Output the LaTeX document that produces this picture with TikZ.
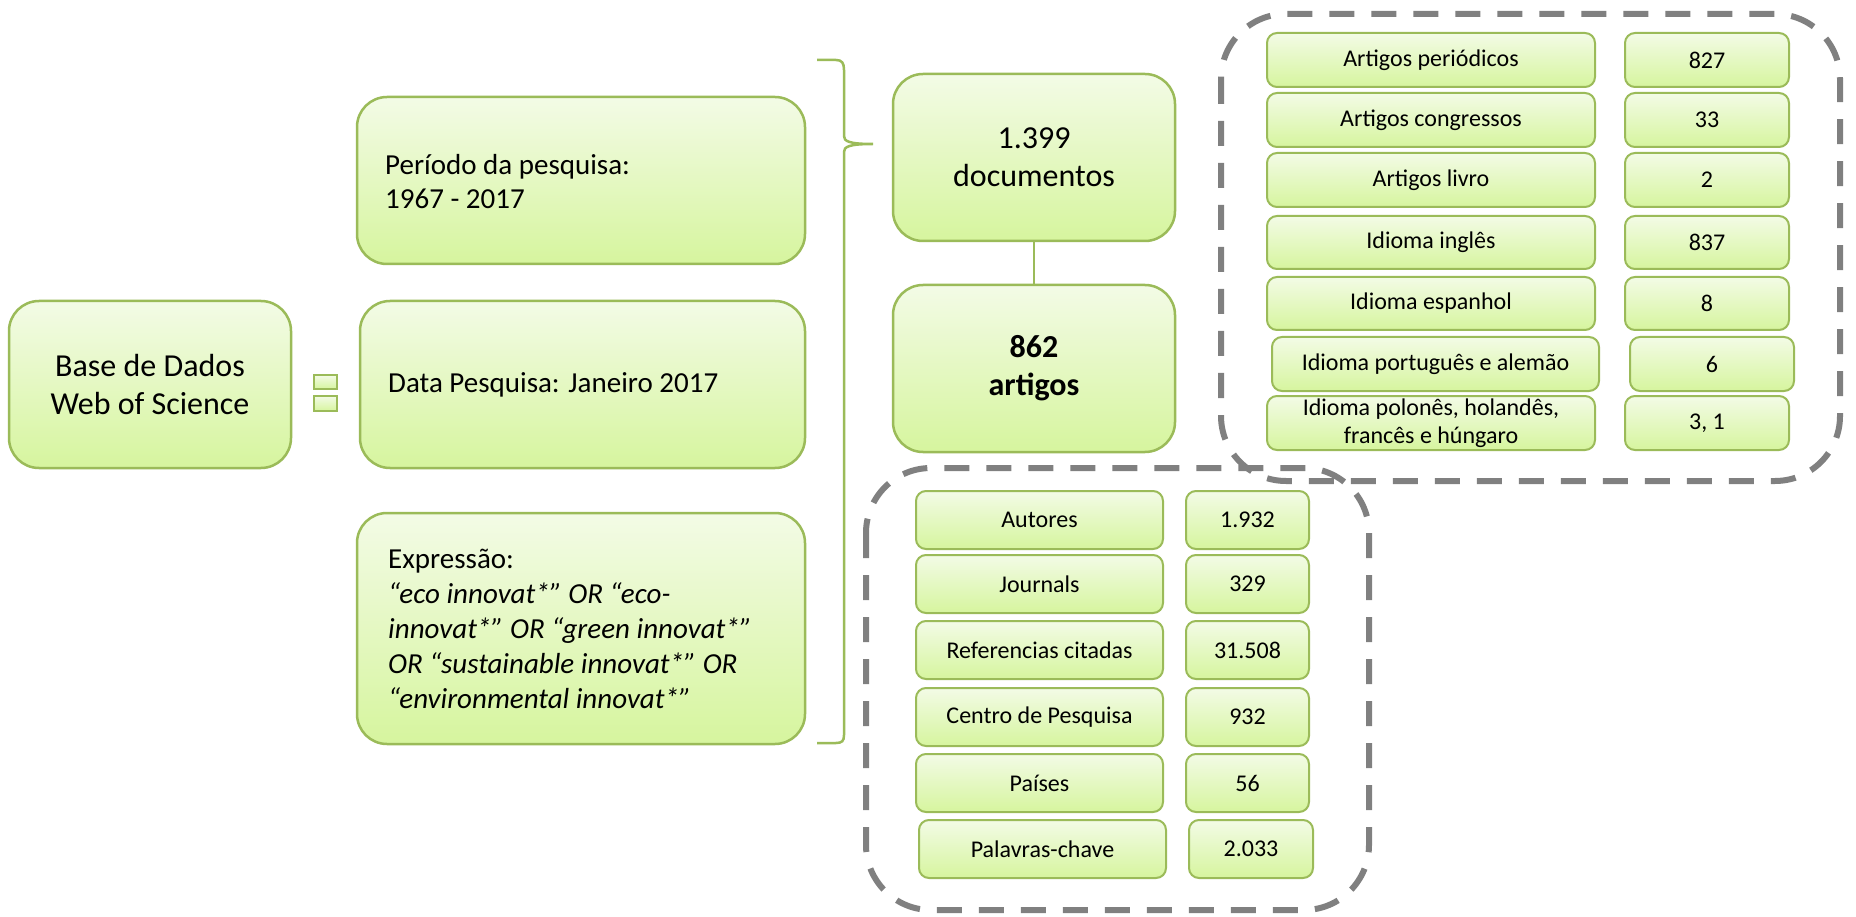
\documentclass[tikz,border=0pt]{standalone}
\usepackage{fontspec}
\setmainfont{Carlito}
\definecolor{gborder}{RGB}{155,187,89}
\definecolor{gtop}{RGB}{243,251,230}
\definecolor{gbot}{RGB}{214,245,158}
\definecolor{dgray}{RGB}{128,128,128}
\tikzset{
  gbox/.style={draw=gborder, line width=2.5pt, rounded corners=30pt, top color=gtop, bottom color=gbot, inner sep=0pt},
  tbox/.style={draw=gborder, line width=2pt, rounded corners=10pt, top color=gtop, bottom color=gbot, inner sep=0pt, font=\fontsize{24}{28}\selectfont, align=center},
  sqbox/.style={draw=gborder, line width=2pt, top color=gtop, bottom color=gbot, inner sep=0pt},
  dashbox/.style={draw=dgray, line width=6pt, dash pattern=on 25pt off 17pt, rounded corners=65pt},
  lbl/.style={inner sep=0pt, align=left, anchor=west, font=\fontsize{29}{34}\selectfont},
  bigtxt/.style={font=\fontsize{32}{38}\selectfont, align=center},
  link/.style={draw=gborder, line width=2.5pt},
}
\newcommand\gbx[7]{\node[#1, minimum width={(#5-#3)*1pt}, minimum height={(#6-#4)*1pt}] (#2) at ({(#3+#5)/2},{(#4+#6)/2}) {#7};}
\begin{document}
\begin{tikzpicture}[x=1pt,y=-1pt]
\useasboundingbox[fill=white] (0,0) rectangle (1856,917);

% dashed groups
\draw[dashbox] (1221,14) rectangle (1840,481);
\draw[dashbox] (866,468) rectangle (1369,910);

% left part
\gbx{gbox,bigtxt}{base}{9}{301}{291}{468}{Base de Dados\\Web of Science}
\gbx{sqbox}{sqa}{314}{375}{337}{389}{}
\gbx{sqbox}{sqb}{314}{396}{337}{411}{}

\gbx{gbox}{per}{357}{97}{805}{264}{}
\node[lbl] (pertxt) at (385,182) {Período da pesquisa:\\1967 - 2017};
\gbx{gbox}{data}{360}{301}{805}{468}{}
\node[lbl] (datatxt) at (388,385) {Data Pesquisa: Janeiro 2017};
\gbx{gbox}{expr}{357}{513}{805}{744}{}
\node[lbl, font=\fontsize{29}{35}\selectfont] (exptxt) at (388,629) {Expressão:\\\textit{“eco innovat*” OR “eco-}\\\textit{innovat*” OR “green innovat*”}\\\textit{OR “sustainable innovat*” OR}\\\textit{“environmental innovat*”}};

% brace
\coordinate (btop) at (817,60);
\coordinate (btip) at (873,144);
\coordinate (bbot) at (817,743);
\draw[link] (btop) -- (836,60) .. controls (842,60) and (844,63) .. (844,70) -- (844,136)
  .. controls (844,141) and (848,144) .. (btip)
  .. controls (848,144) and (844,147) .. (844,152) -- (844,735)
  .. controls (844,741) and (842,743) .. (836,743) -- (bbot);

% centre column
\gbx{gbox,bigtxt}{doc}{893}{74}{1175}{241}{1.399\\documentos}
\gbx{gbox,bigtxt}{art}{893}{285}{1175}{452}{\textbf{862}\\\textbf{artigos}}
\draw[link] (doc.south) -- (art.north);

% upper table
\gbx{tbox}{u1a}{1267}{33}{1595}{87}{Artigos periódicos}
\gbx{tbox}{u1b}{1625}{33}{1789}{87}{827}
\gbx{tbox}{u2a}{1267}{93}{1595}{147}{Artigos congressos}
\gbx{tbox}{u2b}{1625}{93}{1789}{147}{33}
\gbx{tbox}{u3a}{1267}{153}{1595}{207}{Artigos livro}
\gbx{tbox}{u3b}{1625}{153}{1789}{207}{2}
\gbx{tbox}{u4a}{1267}{216}{1595}{269}{Idioma inglês}
\gbx{tbox}{u4b}{1625}{216}{1789}{269}{837}
\gbx{tbox}{u5a}{1267}{277}{1595}{330}{Idioma espanhol}
\gbx{tbox}{u5b}{1625}{277}{1789}{330}{8}
\gbx{tbox}{u6a}{1272}{337}{1599}{391}{Idioma português e alemão}
\gbx{tbox}{u6b}{1630}{337}{1794}{391}{6}
\gbx{tbox}{u7a}{1267}{396}{1595}{450}{Idioma polonês, holandês,\\francês e húngaro}
\gbx{tbox}{u7b}{1625}{396}{1789}{450}{3, 1}

% lower table
\gbx{tbox}{l1a}{916}{491}{1163}{549}{Autores}
\gbx{tbox}{l1b}{1186}{491}{1309}{549}{1.932}
\gbx{tbox}{l2a}{916}{555}{1163}{613}{Journals}
\gbx{tbox}{l2b}{1186}{555}{1309}{613}{329}
\gbx{tbox}{l3a}{916}{621}{1163}{679}{Referencias citadas}
\gbx{tbox}{l3b}{1186}{621}{1309}{679}{31.508}
\gbx{tbox}{l4a}{916}{688}{1163}{746}{Centro de Pesquisa}
\gbx{tbox}{l4b}{1186}{688}{1309}{746}{932}
\gbx{tbox}{l5a}{916}{754}{1163}{812}{Países}
\gbx{tbox}{l5b}{1186}{754}{1309}{812}{56}
\gbx{tbox}{l6a}{919}{820}{1166}{878}{Palavras-chave}
\gbx{tbox}{l6b}{1189}{820}{1313}{878}{2.033}
\end{tikzpicture}
\end{document}
